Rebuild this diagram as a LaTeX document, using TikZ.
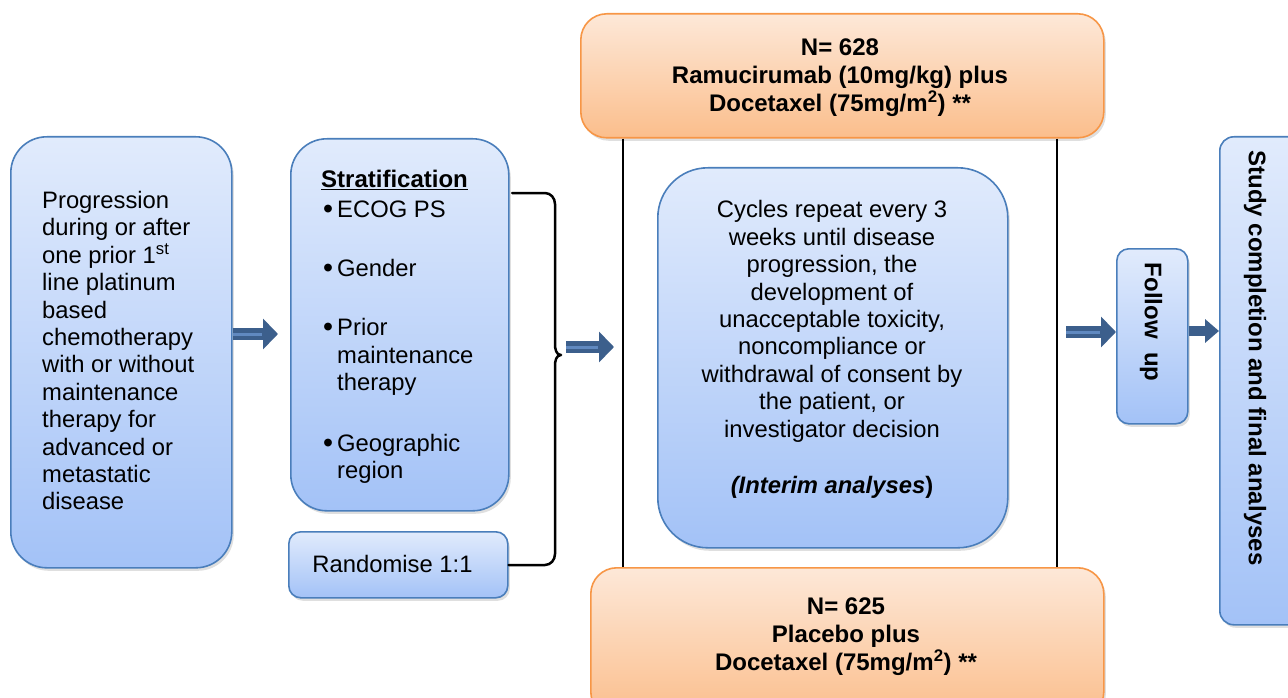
\documentclass[tikz,border=0pt]{standalone}
\usepackage{fontspec}
\setmainfont{Liberation Sans}
\usetikzlibrary{shadows,arrows.meta,calc}
\definecolor{bluetop}{HTML}{E1EBFC}
\definecolor{bluebot}{HTML}{A3C2F7}
\definecolor{blueedge}{HTML}{4A7EBB}
\definecolor{orgtop}{HTML}{FDE8D8}
\definecolor{orgbot}{HTML}{FBBE8C}
\definecolor{orgedge}{HTML}{F79646}
\definecolor{arrdark}{HTML}{3C5F8C}
\definecolor{arrlight}{HTML}{6089C0}
\newcommand{\bul}{\hspace*{2pt}\makebox[14pt][l]{\raisebox{-1.5pt}{\scalebox{1.2}{\textbullet}}}}
\tikzset{
  box/.style={draw=blueedge, line width=1.6pt, top color=bluetop, bottom color=bluebot,
    rectangle, anchor=north west, inner sep=0pt,
    drop shadow={shadow xshift=2pt, shadow yshift=-3pt, opacity=0.25}},
  obox/.style={box, draw=orgedge, top color=orgtop, bottom color=orgbot},
  txt/.style={font=\fontsize{23.8}{27.4}\selectfont, inner sep=0pt},
  btxt/.style={font=\fontsize{24}{28}\selectfont\bfseries, inner sep=0pt, align=center},
  barrow/.style={arrdark, line width=12pt, -{Triangle[length=15pt,width=30pt]}},
  bline/.style={arrlight, line width=3pt},
  linkline/.style={black, line width=2pt},
}
\begin{document}
\begin{tikzpicture}[x=1pt,y=-1pt]
\useasboundingbox (0,0) rectangle (1288,698);
% boxes
\node[box, rounded corners=36pt, minimum width=221pt, minimum height=431pt] (inc) at (10,136) {};
\node[box, rounded corners=36pt, minimum width=218pt, minimum height=372pt] (strat) at (290,138) {};
\node[box, rounded corners=12pt, minimum width=219pt, minimum height=66pt] (rand) at (288,531) {};
\node[obox, rounded corners=26pt, minimum width=523pt, minimum height=124pt] (arm1) at (580,13) {};
\node[obox, rounded corners=26pt, minimum width=513pt, minimum height=150pt] (arm2) at (590,567) {};
\node[box, rounded corners=50pt, minimum width=350pt, minimum height=380pt] (cyc) at (657,167) {};
\node[box, rounded corners=12pt, minimum width=71pt, minimum height=175pt] (fu) at (1116,248) {};
\node[box, rounded corners=14pt, minimum width=90pt, minimum height=488pt] (study) at (1219,136) {};
% texts
\node[txt, align=left, anchor=north west] (inctxt) at (42,191) {Progression\\during or after\\one prior 1\textsuperscript{st}\\line platinum\\based\\chemotherapy\\with or without\\maintenance\\therapy for\\advanced or\\metastatic\\disease};
\node[txt, align=left, anchor=north west] (strattxt) at (321,169.5) {\underline{\fontsize{24}{27.4}\selectfont\bfseries Stratification}\\[2.6pt]
\bul ECOG PS\\[31.6pt]
\bul Gender\\[31.6pt]
\bul Prior\\[0.6pt]
\hspace*{16pt}maintenance\\
\hspace*{16pt}therapy\\[33.6pt]
\bul Geographic\\
\hspace*{16pt}region};
\node[txt] (randtxt) at (392.5,564) {Randomise 1:1};
\node[btxt, anchor=north] (arm1txt) at (840,38.8) {N= 628\\Ramucirumab (10mg/kg) plus\\Docetaxel (75mg/m\textsuperscript{2}) **};
\node[btxt, anchor=north] (arm2txt) at (846,597.8) {N= 625\\Placebo plus\\Docetaxel (75mg/m\textsuperscript{2}) **};
\node[txt, align=center, anchor=north] (cyctxt) at (832,200.5) {Cycles repeat every 3\\weeks until disease\\progression, the\\development of\\unacceptable toxicity,\\noncompliance or\\withdrawal of consent by\\the patient, or\\investigator decision\\[28.6pt]\textbf{\textit{(Interim analyses})}};
\node[btxt, rotate=-90] (futxt) at (1151,322) {Follow\ \ up};
\node[btxt, rotate=-90] (studytxt) at (1255,358) {Study completion and final analyses};
% vertical links between arms
\coordinate (v1) at (623,0);
\coordinate (v2) at (1057,0);
\draw[linkline] (arm1.south -| v1) -- (arm2.north -| v1);
\draw[linkline] (arm1.south -| v2) -- (arm2.north -| v2);
% brace
\coordinate (bt) at (512,193);
\coordinate (bb) at (rand.east |- 0,565);
\draw[black, line width=2.5pt, line cap=round, line join=round]
  (bt) -- (545,193) to[out=0,in=90] (555,204) -- (555,344) to[out=-90,in=180] (561,355)
  to[out=180,in=90] (555,366) -- (555,554) to[out=-90,in=0] (545,565) -- (bb);
% block arrows
\coordinate (a1s) at (inc.east |- 0,334);
\coordinate (a1e) at (278,334);
\coordinate (a2s) at (566,347);
\coordinate (a2e) at (614,347);
\coordinate (a3s) at (1066,332);
\coordinate (a3e) at (fu.west |- 0,332);
\coordinate (a4s) at (fu.east |- 0,331);
\coordinate (a4e) at (study.west |- 0,331);
\draw[barrow] (a1s) -- (a1e);
\draw[bline] (a1s) -- ($(a1e)+(-16,0)$);
\draw[barrow] (a2s) -- (a2e);
\draw[bline] (a2s) -- ($(a2e)+(-16,0)$);
\draw[barrow] (a3s) -- (a3e);
\draw[bline] (a3s) -- ($(a3e)+(-16,0)$);
\draw[arrdark, line width=10pt, -{Triangle[length=14pt,width=23pt]}] (a4s) -- (a4e);
\end{tikzpicture}
\end{document}
